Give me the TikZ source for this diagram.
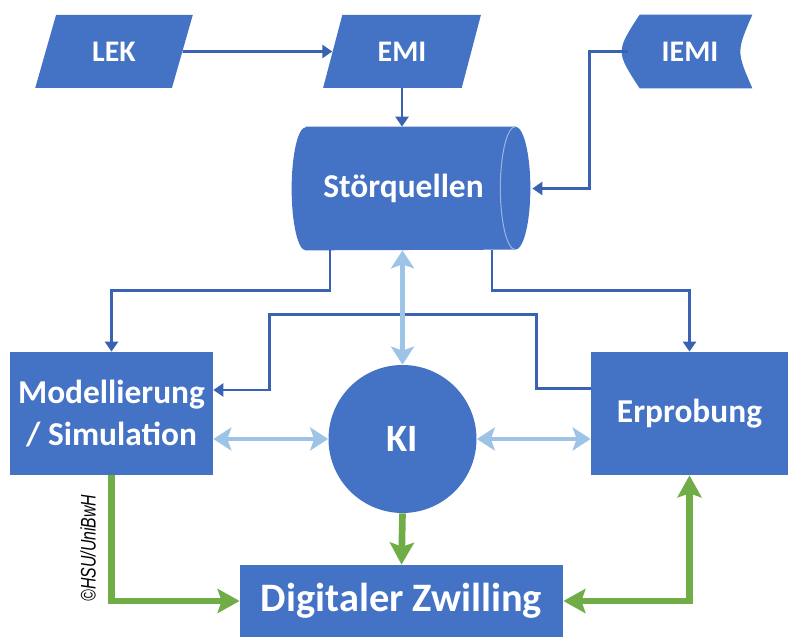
\documentclass[tikz,border=0pt]{standalone}
\usepackage{fontspec}
\setmainfont{Carlito}
\newfontfamily\creditfont[FakeStretch=0.75]{Liberation Sans}
\usepackage{tikz}
\usetikzlibrary{arrows.meta,shapes.geometric,backgrounds}
\definecolor{boxblue}{RGB}{68,114,196}
\definecolor{lineblue}{RGB}{58,98,178}
\definecolor{seamblue}{RGB}{150,178,226}
\definecolor{lightarr}{RGB}{157,195,230}
\definecolor{arrgreen}{RGB}{112,173,71}

\begin{document}
\begin{tikzpicture}[
    blk/.style={fill=boxblue, text=white, inner sep=0pt, align=center,
        font=\bfseries\fontsize{19}{24}\selectfont},
    para/.style={blk, trapezium, trapezium left angle=68, trapezium right angle=112,
        trapezium stretches=true, minimum width=3.16cm, minimum height=1.46cm,
        font=\bfseries\fontsize{17}{20}\selectfont},
    flow/.style={draw=lineblue, line width=1.6pt, -{Triangle[length=2mm,width=2.6mm]}},
    link/.style={draw=lightarr, line width=2.8pt,
        {Stealth[length=3.6mm,width=4.6mm,inset=0.8mm]}-{Stealth[length=3.6mm,width=4.6mm,inset=0.8mm]}},
    feed/.style={draw=arrgreen, line width=3.8pt, -{Stealth[length=4.4mm,width=4.8mm,inset=0.8mm]}},
    feedboth/.style={feed, {Stealth[length=4.4mm,width=4.8mm,inset=0.8mm]}-{Stealth[length=4.4mm,width=4.8mm,inset=0.8mm]}}
]
    \useasboundingbox (0,0) rectangle (15.84,-12.74);

    \node[para] (lek) at (2.28,-1.03) {LEK};
    \node[para] (emi) at (8.04,-1.03) {EMI};
    \node[blk, fill=none, minimum width=2.48cm, minimum height=1.46cm,
        font=\bfseries\fontsize{17}{20}\selectfont] (iemi) at (13.8,-1.03) {IEMI};
    \node[blk, fill=none, minimum width=4.46cm, minimum height=2.46cm] (stoer) at (8.07,-3.77) {Störquellen};
    \node[blk, minimum width=4.06cm, minimum height=2.46cm] (model) at (2.23,-8.27) {Modellierung\\/ Simulation};
    \node[blk, minimum width=3.94cm, minimum height=2.46cm] (erprob) at (13.79,-8.27) {Erprobung};
    \node[blk, circle, minimum size=2.96cm,
        font=\bfseries\fontsize{22}{26}\selectfont] (ki) at (8.05,-8.78) {KI};
    \node[blk, minimum width=6.46cm, minimum height=1.44cm,
        font=\bfseries\fontsize{23}{27}\selectfont] (dz) at (8.03,-12.02) {Digitaler Zwilling};
    \node[rotate=90, inner sep=0pt,
        font=\creditfont\itshape\fontsize{12}{14}\selectfont] (credit) at (1.76,-10.96) {©HSU/UniBwH};
    \coordinate (stoercap) at ([xshift=3.4mm]stoer.east);

    % shapes for iemi and stoer
    \begin{scope}[on background layer]
        \fill[boxblue] ([xshift=2.4mm]iemi.north west) -- (iemi.north east)
            .. controls ([xshift=-3.2mm]iemi.east) .. (iemi.south east)
            -- ([xshift=2.4mm]iemi.south west)
            .. controls ([xshift=-2.4mm]iemi.west) .. ([xshift=2.4mm]iemi.north west) -- cycle;
        \fill[boxblue] ([xshift=2.8mm]stoer.north west) -- (stoer.north east)
            arc[start angle=90, end angle=-90, x radius=3mm, y radius=1.23cm]
            -- ([xshift=2.8mm]stoer.south west)
            arc[start angle=270, end angle=90, x radius=2.8mm, y radius=1.23cm] -- cycle;
        \draw[seamblue, line width=0.6pt] (stoer.north east)
            arc[start angle=90, end angle=270, x radius=3mm, y radius=1.23cm];
    \end{scope}

    \draw[flow] (lek) to (emi);
    \draw[flow] (emi.south) to (emi.south |- stoer.north);
    \draw[flow] (iemi.west) -- ++(-0.76,0) |- (stoercap);
    \draw[flow] ([xshift=-1.47cm]stoer.south) -- ++(0,-0.8) -| (model.north);
    \draw[flow] ([xshift=1.77cm]stoer.south) -- ++(0,-0.8) -| (erprob.north);
    \draw[flow] ([yshift=0.5cm]erprob.west) -- ++(-1.08,0) -- ++(0,1.48)
        -- ++(-5.34,0) |- ([yshift=0.47cm]model.east);

    \draw[link] (ki.north) to (ki.north |- stoer.south);
    \draw[link] (ki.west) to (ki.west -| model.east);
    \draw[link] (ki.east) to (ki.east -| erprob.west);

    \draw[feed] (model.south) |- (dz.west);
    \draw[feed] (ki.south) to (dz.north);
    \draw[feedboth] (dz.east) -| (erprob.south);
\end{tikzpicture}
\end{document}
